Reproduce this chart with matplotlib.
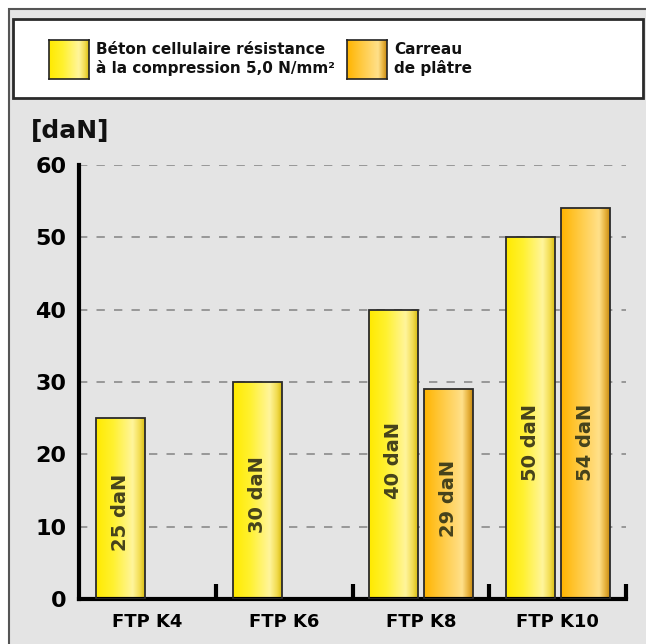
import matplotlib

matplotlib.use("Agg")
import matplotlib.pyplot as plt
import numpy as np
from matplotlib.colors import LinearSegmentedColormap
from matplotlib.patches import Rectangle

# --- data ---
categories = ["FTP K4", "FTP K6", "FTP K8", "FTP K10"]
beton = [25, 30, 40, 50]
platre = [None, None, 29, 54]
series_names = ["Béton cellulaire résistance\nà la compression 5,0 N/mm²", "Carreau\nde plâtre"]
y_ticks = [0, 10, 20, 30, 40, 50, 60]

# --- style ---
W, H = 646, 644
BG = "#e4e4e4"
yellow_cm = LinearSegmentedColormap.from_list(
    "yel", [(0, "#ffea00"), (0.35, "#fff130"), (0.75, "#fff59c"), (0.9, "#f2dc50"), (1, "#d8bc10")]
)
orange_cm = LinearSegmentedColormap.from_list(
    "ora", [(0, "#ffb400"), (0.4, "#ffcc48"), (0.78, "#ffe08a"), (0.9, "#e8b440"), (1, "#c88a10")]
)
LABEL_FAMILY = ["Liberation Sans Narrow", "DejaVu Sans"]
grad = np.linspace(0, 1, 256).reshape(1, -1)

fig = plt.figure(figsize=(W / 100, H / 100), dpi=100)
fig.patch.set_facecolor("white")

# outer frame + legend box (figure coords), kept below the axes
fig.patches.append(
    Rectangle((9 / W, -0.1), 1.0, (H - 9) / H + 0.1, transform=fig.transFigure,
              facecolor=BG, edgecolor="#555555", lw=1.5, zorder=-3)
)
fig.patches.append(
    Rectangle((13 / W, (H - 98) / H), 630 / W, 79 / H, transform=fig.transFigure,
              facecolor="white", edgecolor="#2a2a2a", lw=2, zorder=-2)
)

# legend swatches + text
for sx, cm, name in [(49, yellow_cm, series_names[0]), (347, orange_cm, series_names[1])]:
    sw = fig.add_axes([sx / W, (H - 79) / H, 40 / W, 39 / H])
    sw.imshow(grad, cmap=cm, aspect="auto", extent=(0, 1, 0, 1))
    sw.set_xticks([])
    sw.set_yticks([])
    for s in sw.spines.values():
        s.set_linewidth(1.2)
        s.set_color("#222222")
    fig.text((sx + 47) / W, (H - 59) / H, name, ha="left", va="center",
             fontsize=11, fontweight="bold", family=LABEL_FAMILY,
             linespacing=1.2, color="#111111")

# --- main axes ---
left, right, bottom, top = 79, 626, 599, 165
ax = fig.add_axes([left / W, (H - bottom) / H, (right - left) / W, (bottom - top) / H])
ax.set_facecolor("none")

yb0, yb1 = 17 / 137, 66 / 137
ob0, ob1 = 72 / 137, 121 / 137


def draw_bar(x0, x1, v, cm):
    bar = ax.bar(x0, v, width=x1 - x0, align="edge", facecolor="none",
                 edgecolor="#2a2a2a", lw=1.3, zorder=3)[0]
    im = ax.imshow(grad, cmap=cm, aspect="auto", extent=(x0, x1, 0, v), zorder=2)
    im.set_clip_path(bar)
    ax.text((x0 + x1) / 2, min(v * 0.48, 21.7), f"{v} daN", rotation=90,
            ha="center", va="center", fontsize=14, fontweight="bold",
            color="#45421c", zorder=4)


for i, cat in enumerate(categories):
    draw_bar(i + yb0, i + yb1, beton[i], yellow_cm)
    if platre[i] is not None:
        draw_bar(i + ob0, i + ob1, platre[i], orange_cm)

ax.set_xlim(0, len(categories))
ax.set_ylim(0, 60)

ax.set_yticks(y_ticks)
ax.set_yticklabels([str(t) for t in y_ticks], fontsize=16, fontweight="bold")
ax.tick_params(axis="y", length=0, pad=9)
ax.set_xticks(range(1, len(categories) + 1))
ax.set_xticklabels([])
ax.tick_params(axis="x", direction="in", length=11, width=3, color="black")
ax.set_xticks([i + 0.5 for i in range(len(categories))], minor=True)
ax.set_xticklabels(categories, minor=True, fontsize=13, fontweight="bold")
ax.tick_params(axis="x", which="minor", length=0, pad=10)

ax.yaxis.grid(True, color="#8a8a8a", lw=1.2, dashes=(5, 5.5))
ax.set_axisbelow(True)
for side in ["top", "right"]:
    ax.spines[side].set_visible(False)
for side in ["left", "bottom"]:
    ax.spines[side].set_linewidth(3)
    ax.spines[side].set_capstyle("projecting")

fig.text(31 / W, (H - 131) / H, "[daN]", ha="left", va="center",
         fontsize=18, fontweight="bold", color="#111111")

fig.savefig("out.png", dpi=100)
